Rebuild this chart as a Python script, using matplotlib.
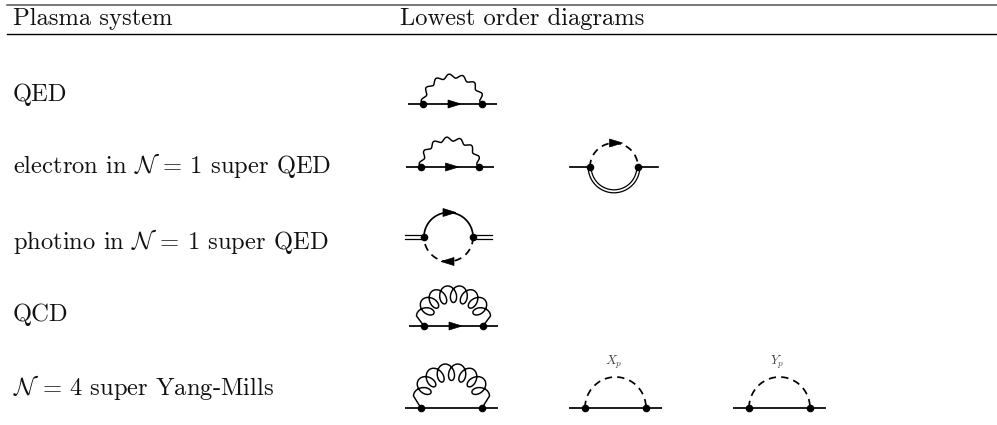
import numpy as np
import matplotlib
matplotlib.use('Agg')
import matplotlib.pyplot as plt
from matplotlib.patches import Polygon

plt.rcParams['font.family'] = ['cmr10', 'DejaVu Serif']
plt.rcParams['mathtext.fontset'] = 'cm'
plt.rcParams['axes.formatter.use_mathtext'] = True

# table text
headers = ['Plasma system', 'Lowest order diagrams']
header_x = [13, 400]
systems = ['QED', r'electron in $\mathcal{N}$ = 1 super QED',
           r'photino in $\mathcal{N}$ = 1 super QED', 'QCD',
           r'$\mathcal{N}$ = 4 super Yang-Mills']
system_baselines = [101, 173, 249, 321, 395]

# left vertex x, right vertex x, line y of each diagram
qed = (423, 482, 104)
electron_a = (421, 479, 167)
electron_b = (590, 638, 167)
photino = (424, 473, 237)
qcd = (424, 483, 326)
n4_a = (421, 482, 408)
n4_b = (585, 646, 408)
n4_c = (749, 810, 408)
scalar_labels = ['$X_p$', '$Y_p$']

LW = 1.25
FS = 17.7

fig = plt.figure(figsize=(9.97, 4.25), dpi=100)
ax = fig.add_axes([0, 0, 1, 1])
ax.set_xlim(0, 997)
ax.set_ylim(425, 0)
ax.axis('off')


def arrow(x, y, direction=1):
    pts = [(x - 6.5 * direction, y - 4), (x + 6.5 * direction, y), (x - 6.5 * direction, y + 4)]
    ax.add_patch(Polygon(pts, closed=True, fc='black', ec='black', lw=0.5, zorder=4))


def dots(xl, xr, y):
    ax.scatter([xl, xr], [y, y], s=30, c='black', zorder=5, linewidths=0)


def legs(xl, xr, y, ext=15):
    ax.plot([xl - ext, xr + ext], [y, y], color='black', lw=LW, solid_capstyle='butt')


def arc(xl, xr, y, height, t):
    # t runs from 0 to 1 along the top half of an ellipse
    a = (xr - xl) / 2
    return (xl + xr) / 2 - a * np.cos(np.pi * t), y - height * np.sin(np.pi * t)


def frame(x, y):
    # unit tangent and outward normal of a curve, plus arc length 0..1
    dx, dy = np.gradient(x), np.gradient(y)
    ds = np.hypot(dx, dy)
    s = np.cumsum(ds)
    s = (s - s[0]) / (s[-1] - s[0])
    return dx / ds, dy / ds, dy / ds, -dx / ds, s


def wavy(d, height=28, n=7, amp=2.0):
    xl, xr, y = d
    x, yy = arc(xl, xr, y, height, np.linspace(0, 1, 800))
    _, _, nx, ny, s = frame(x, yy)
    wave = amp * np.sin(2 * np.pi * n * s)
    ax.plot(x + wave * nx, yy + wave * ny, color='black', lw=1.05)


def curly(d, a, base, height, n, radial=8.5, tang=5.5):
    xl, xr, y = d
    xm = (xl + xr) / 2
    th = np.linspace(0, np.pi, 1500)
    cx, cy = xm - a * np.cos(th), base - height * np.sin(th)
    tx, ty, nx, ny, s = frame(cx, cy)
    phi = 2 * np.pi * n * s
    # small loops running along a centre ellipse
    x = cx + radial * np.cos(phi) * nx + tang * np.sin(phi) * tx
    yy = cy + radial * np.cos(phi) * ny + tang * np.sin(phi) * ty
    x = np.r_[xl, x, xr]
    yy = np.r_[y, yy, y]
    ax.plot(x, yy, color='black', lw=1.05)


def fermion_line(d):
    legs(*d)
    arrow((d[0] + d[1]) / 2 + 2, d[2])
    dots(*d)


def dashed_arc(d, height):
    xl, xr, y = d
    t = np.linspace(0, 1, 200)
    x, yy = arc(xl, xr, y, height, t)
    ax.plot(x, yy, color='black', lw=LW, dashes=(4.2, 3.0))


# rules
ax.plot([7, 997], [5, 5], color='#555555', lw=1.1)
ax.plot([7, 997], [34, 34], color='black', lw=1.0)

for x, label in zip(header_x, headers):
    ax.text(x, 25, label, fontsize=FS, va='baseline', ha='left', color='#111111')
for y, label in zip(system_baselines, systems):
    ax.text(13, y, label, fontsize=FS, va='baseline', ha='left', color='#111111')

# QED
fermion_line(qed)
wavy(qed)

# electron in N=1
fermion_line(electron_a)
wavy(electron_a)

xl, xr, y = electron_b
ax.plot([xl - 20, xl], [y, y], color='black', lw=LW)
ax.plot([xr, xr + 20], [y, y], color='black', lw=LW)
dashed_arc(electron_b, 24)
arrow((xl + xr) / 2 + 2, y - 24)
th = np.linspace(0, np.pi, 100)
for rad in (22.8, 25.8):
    ax.plot((xl + xr) / 2 + rad * np.cos(th), y + rad * np.sin(th), color='black', lw=0.9)
dots(xl, xr, y)

# photino in N=1
xl, xr, y = photino
c = (xl + xr) / 2
rad = (xr - xl) / 2
for off in (-1.6, 1.6):
    ax.plot([xl - 19, xl], [y + off, y + off], color='black', lw=0.9)
    ax.plot([xr, xr + 19], [y + off, y + off], color='black', lw=0.9)
ax.plot(c + rad * np.cos(th), y - rad * np.sin(th), color='black', lw=LW)
ax.plot(c + rad * np.cos(th), y + rad * np.sin(th), color='black', lw=LW, dashes=(4.2, 3.0))
arrow(c + 1, y - rad)
arrow(c - 1, y + rad, direction=-1)
dots(xl, xr, y)

# QCD
fermion_line(qcd)
curly(qcd, a=28.5, base=316, height=22, n=7)

# N=4 SYM
legs(*n4_a, ext=16)
dots(*n4_a)
curly(n4_a, a=29.5, base=396, height=24, n=7)

for d, label in zip((n4_b, n4_c), scalar_labels):
    legs(*d, ext=16)
    dashed_arc(d, 31)
    dots(*d)
    ax.text((d[0] + d[1]) / 2 - 2, 365, label, fontsize=9.5, ha='center', va='baseline', color='#444444')

fig.savefig('out.png', dpi=100)
